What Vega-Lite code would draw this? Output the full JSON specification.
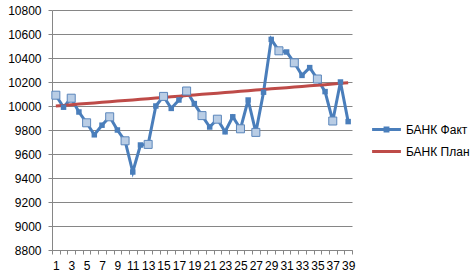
{
  "$schema": "https://vega.github.io/schema/vega-lite/v6.json",
  "width": 300,
  "height": 240,
  "autosize": "none",
  "padding": {"left": 52, "top": 10, "right": 120, "bottom": 25},
  "background": "white",
  "config": {
    "view": {"stroke": null},
    "font": "Liberation Sans",
    "axis": {
      "labelFont": "Liberation Sans",
      "labelFontSize": 12,
      "labelColor": "#000000",
      "domainColor": "#868686",
      "tickColor": "#868686",
      "gridColor": "#868686",
      "gridOpacity": 1,
      "tickSize": 4,
      "title": null
    },
    "legend": {"labelFont": "Liberation Sans", "labelFontSize": 12, "labelColor": "#000000"}
  },
  "data": {
    "values": [
      {"d": 1, "v": 10090, "series": "БАНК Факт", "s": 1},
      {"d": 2, "v": 9990, "series": "БАНК Факт", "s": 0},
      {"d": 3, "v": 10065, "series": "БАНК Факт", "s": 1},
      {"d": 4, "v": 9950, "series": "БАНК Факт", "s": 0},
      {"d": 5, "v": 9860, "series": "БАНК Факт", "s": 1},
      {"d": 6, "v": 9760, "series": "БАНК Факт", "s": 0},
      {"d": 7, "v": 9840, "series": "БАНК Факт", "s": 0},
      {"d": 8, "v": 9910, "series": "БАНК Факт", "s": 1},
      {"d": 9, "v": 9800, "series": "БАНК Факт", "s": 0},
      {"d": 10, "v": 9710, "series": "БАНК Факт", "s": 1},
      {"d": 11, "v": 9450, "series": "БАНК Факт", "s": 0},
      {"d": 12, "v": 9675, "series": "БАНК Факт", "s": 0},
      {"d": 13, "v": 9680, "series": "БАНК Факт", "s": 1},
      {"d": 14, "v": 10000, "series": "БАНК Факт", "s": 0},
      {"d": 15, "v": 10080, "series": "БАНК Факт", "s": 1},
      {"d": 16, "v": 9980, "series": "БАНК Факт", "s": 0},
      {"d": 17, "v": 10050, "series": "БАНК Факт", "s": 0},
      {"d": 18, "v": 10125, "series": "БАНК Факт", "s": 1},
      {"d": 19, "v": 10020, "series": "БАНК Факт", "s": 0},
      {"d": 20, "v": 9920, "series": "БАНК Факт", "s": 1},
      {"d": 21, "v": 9825, "series": "БАНК Факт", "s": 0},
      {"d": 22, "v": 9890, "series": "БАНК Факт", "s": 1},
      {"d": 23, "v": 9785, "series": "БАНК Факт", "s": 0},
      {"d": 24, "v": 9910, "series": "БАНК Факт", "s": 0},
      {"d": 25, "v": 9810, "series": "БАНК Факт", "s": 1},
      {"d": 26, "v": 10050, "series": "БАНК Факт", "s": 0},
      {"d": 27, "v": 9780, "series": "БАНК Факт", "s": 1},
      {"d": 28, "v": 10115, "series": "БАНК Факт", "s": 0},
      {"d": 29, "v": 10555, "series": "БАНК Факт", "s": 0},
      {"d": 30, "v": 10460, "series": "БАНК Факт", "s": 1},
      {"d": 31, "v": 10450, "series": "БАНК Факт", "s": 0},
      {"d": 32, "v": 10360, "series": "БАНК Факт", "s": 1},
      {"d": 33, "v": 10255, "series": "БАНК Факт", "s": 0},
      {"d": 34, "v": 10320, "series": "БАНК Факт", "s": 0},
      {"d": 35, "v": 10225, "series": "БАНК Факт", "s": 1},
      {"d": 36, "v": 10120, "series": "БАНК Факт", "s": 0},
      {"d": 37, "v": 9875, "series": "БАНК Факт", "s": 1},
      {"d": 38, "v": 10200, "series": "БАНК Факт", "s": 0},
      {"d": 39, "v": 9870, "series": "БАНК Факт", "s": 0},
      {"d": 1, "v": 10000, "series": "БАНК План", "s": 0},
      {"d": 2, "v": 10005, "series": "БАНК План", "s": 0},
      {"d": 3, "v": 10010, "series": "БАНК План", "s": 0},
      {"d": 4, "v": 10016, "series": "БАНК План", "s": 0},
      {"d": 5, "v": 10021, "series": "БАНК План", "s": 0},
      {"d": 6, "v": 10026, "series": "БАНК План", "s": 0},
      {"d": 7, "v": 10031, "series": "БАНК План", "s": 0},
      {"d": 8, "v": 10036, "series": "БАНК План", "s": 0},
      {"d": 9, "v": 10041, "series": "БАНК План", "s": 0},
      {"d": 10, "v": 10046, "series": "БАНК План", "s": 0},
      {"d": 11, "v": 10051, "series": "БАНК План", "s": 0},
      {"d": 12, "v": 10056, "series": "БАНК План", "s": 0},
      {"d": 13, "v": 10061, "series": "БАНК План", "s": 0},
      {"d": 14, "v": 10066, "series": "БАНК План", "s": 0},
      {"d": 15, "v": 10071, "series": "БАНК План", "s": 0},
      {"d": 16, "v": 10077, "series": "БАНК План", "s": 0},
      {"d": 17, "v": 10082, "series": "БАНК План", "s": 0},
      {"d": 18, "v": 10087, "series": "БАНК План", "s": 0},
      {"d": 19, "v": 10092, "series": "БАНК План", "s": 0},
      {"d": 20, "v": 10097, "series": "БАНК План", "s": 0},
      {"d": 21, "v": 10102, "series": "БАНК План", "s": 0},
      {"d": 22, "v": 10107, "series": "БАНК План", "s": 0},
      {"d": 23, "v": 10112, "series": "БАНК План", "s": 0},
      {"d": 24, "v": 10117, "series": "БАНК План", "s": 0},
      {"d": 25, "v": 10122, "series": "БАНК План", "s": 0},
      {"d": 26, "v": 10128, "series": "БАНК План", "s": 0},
      {"d": 27, "v": 10133, "series": "БАНК План", "s": 0},
      {"d": 28, "v": 10138, "series": "БАНК План", "s": 0},
      {"d": 29, "v": 10143, "series": "БАНК План", "s": 0},
      {"d": 30, "v": 10148, "series": "БАНК План", "s": 0},
      {"d": 31, "v": 10153, "series": "БАНК План", "s": 0},
      {"d": 32, "v": 10158, "series": "БАНК План", "s": 0},
      {"d": 33, "v": 10163, "series": "БАНК План", "s": 0},
      {"d": 34, "v": 10168, "series": "БАНК План", "s": 0},
      {"d": 35, "v": 10173, "series": "БАНК План", "s": 0},
      {"d": 36, "v": 10178, "series": "БАНК План", "s": 0},
      {"d": 37, "v": 10184, "series": "БАНК План", "s": 0},
      {"d": 38, "v": 10189, "series": "БАНК План", "s": 0},
      {"d": 39, "v": 10194, "series": "БАНК План", "s": 0}
    ]
  },
  "encoding": {
    "x": {
      "field": "d",
      "type": "quantitative",
      "scale": {"domain": [0.5, 39.5], "nice": false, "zero": false},
      "axis": {
        "values": [0.5, 1.5, 2.5, 3.5, 4.5, 5.5, 6.5, 7.5, 8.5, 9.5, 10.5, 11.5, 12.5, 13.5, 14.5, 15.5, 16.5, 17.5, 18.5, 19.5, 20.5, 21.5, 22.5, 23.5, 24.5, 25.5, 26.5, 27.5, 28.5, 29.5, 30.5, 31.5, 32.5, 33.5, 34.5, 35.5, 36.5, 37.5, 38.5, 39.5],
        "labelExpr": "datum.value < 39 && (datum.value + 0.5) % 2 == 1 ? '' + (datum.value + 0.5) : ''",
        "labelOffset": 3.85,
        "labelOverlap": false,
        "labelFlush": false,
        "labelPadding": 6,
        "grid": false
      }
    },
    "y": {
      "field": "v",
      "type": "quantitative",
      "scale": {"domain": [8800, 10800], "nice": false, "zero": false},
      "axis": {
        "values": [8800, 9000, 9200, 9400, 9600, 9800, 10000, 10200, 10400, 10600, 10800],
        "format": "d",
        "grid": true,
        "labelPadding": 7
      }
    }
  },
  "layer": [
    {
      "mark": {"type": "line", "strokeWidth": 3},
      "encoding": {
        "color": {
          "field": "series",
          "type": "nominal",
          "scale": {"domain": ["БАНК Факт", "БАНК План"], "range": ["#4a7ebb", "#be4b48"]},
          "legend": {
            "title": null,
            "orient": "none",
            "legendX": 321,
            "legendY": 106,
            "symbolType": "M-1.2,0H1.2",
            "symbolSize": 576,
            "symbolStrokeWidth": 3,
            "rowPadding": 1,
            "labelOffset": 6,
            "encode": {
              "symbols": {
                "update": {
                  "shape": {"signal": "datum.value == 'БАНК Факт' ? 'M-1.2,0H1.2M-0.12,-0.12H0.12V0.12H-0.12Z' : 'M-1.2,0H1.2'"}
                }
              }
            }
          }
        }
      }
    },
    {
      "transform": [{"filter": "datum.series == 'БАНК Факт'"}],
      "mark": {"type": "point", "shape": "square", "filled": true, "size": 30, "color": "#4a7ebb", "opacity": 1}
    },
    {
      "transform": [{"filter": "datum.s == 1"}],
      "mark": {"type": "point", "shape": "square", "filled": true, "size": 64, "fill": "#b9cde5", "stroke": "#5b86bb", "strokeWidth": 1, "opacity": 1}
    }
  ]
}
